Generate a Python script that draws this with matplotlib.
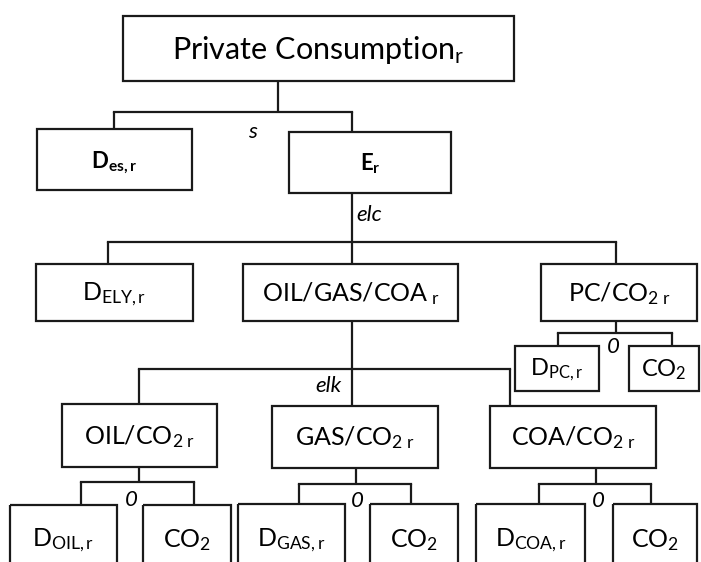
import matplotlib
matplotlib.use('Agg')
import matplotlib.pyplot as plt
from matplotlib.patches import Rectangle

plt.rcParams['font.family'] = ['Lato', 'DejaVu Sans']
plt.rcParams['mathtext.fontset'] = 'custom'
plt.rcParams['mathtext.rm'] = 'Lato'
plt.rcParams['mathtext.it'] = 'Lato:italic'
plt.rcParams['mathtext.bf'] = 'Lato:bold'

# node labels (mathtext for subscripts)
node_labels = {
    'top': r'$\mathrm{Private\ Consumption}_{\mathrm{r}}$',
    'des': r'$\mathbf{D}_{\mathbf{es,r}}$',
    'E': r'$\mathbf{E}_{\mathbf{r}}$',
    'ely': r'$\mathrm{D}_{\mathrm{ELY,r}}$',
    'ogc': r'$\mathrm{OIL/GAS/COA}_{\mathrm{\ r}}$',
    'pc': r'$\mathrm{PC/CO}_{\mathrm{2\ r}}$',
    'dpc': r'$\mathrm{D}_{\mathrm{PC,r}}$',
    'pcco2': r'$\mathrm{CO}_{\mathrm{2}}$',
    'oil': r'$\mathrm{OIL/CO}_{\mathrm{2\ r}}$',
    'gas': r'$\mathrm{GAS/CO}_{\mathrm{2\ r}}$',
    'coa': r'$\mathrm{COA/CO}_{\mathrm{2\ r}}$',
    'doil': r'$\mathrm{D}_{\mathrm{OIL,r}}$',
    'oilco2': r'$\mathrm{CO}_{\mathrm{2}}$',
    'dgas': r'$\mathrm{D}_{\mathrm{GAS,r}}$',
    'gasco2': r'$\mathrm{CO}_{\mathrm{2}}$',
    'dcoa': r'$\mathrm{D}_{\mathrm{COA,r}}$',
    'coaco2': r'$\mathrm{CO}_{\mathrm{2}}$',
}

# tree structure: parent -> children, with elasticity label
tree = [
    ('top', ['des', 'E'], 's'),
    ('E', ['ely', 'ogc', 'pc'], 'elc'),
    ('ogc', ['oil', 'gas', 'coa'], 'elk'),
    ('pc', ['dpc', 'pcco2'], '0'),
    ('oil', ['doil', 'oilco2'], '0'),
    ('gas', ['dgas', 'gasco2'], '0'),
    ('coa', ['dcoa', 'coaco2'], '0'),
]

# layout in pixel coords: x0, x1, y0, y1, text y, font size
boxes = {
    'top': (123, 514, 16, 81, 50, 22),
    'des': (37, 192, 129, 190, 162, 16),
    'E': (289, 451, 132, 193, 164, 16),
    'ely': (36, 193, 264, 321, 294, 18),
    'ogc': (243, 458, 264, 321, 294, 18),
    'pc': (541, 697, 264, 321, 294, 18),
    'dpc': (515, 599, 346, 391, 370, 17),
    'pcco2': (629, 699, 346, 391, 370, 17),
    'oil': (62, 217, 404, 467, 437, 18),
    'gas': (272, 438, 406, 468, 438, 18),
    'coa': (490, 656, 406, 468, 438, 18),
    'doil': (10, 117, 505, 600, 540, 18),
    'oilco2': (143, 231, 505, 600, 540, 18),
    'dgas': (238, 345, 504, 600, 540, 18),
    'gasco2': (370, 458, 504, 600, 540, 18),
    'dcoa': (476, 585, 504, 600, 540, 18),
    'coaco2': (613, 697, 504, 600, 540, 18),
}

# connector layout: stem x, bus y, drop xs, label pos, label ha
connectors = {
    'top': (278, 112, [114, 352], (252, 132), 'center'),
    'E': (352, 242, [108, 352, 616], (356, 215), 'left'),
    'ogc': (352, 369, [139, 352, 510], (341, 386), 'right'),
    'pc': (616, 333, [558, 672], (613, 347), 'center'),
    'oil': (139, 482, [81, 194], (131, 500), 'center'),
    'gas': (356, 484, [299, 411], (357, 501), 'center'),
    'coa': (596, 484, [539, 651], (598, 501), 'center'),
}

W, H = 701, 562
fig = plt.figure(figsize=(W / 100, H / 100), dpi=100)
ax = fig.add_axes([0, 0, 1, 1])
ax.set_xlim(0, W)
ax.set_ylim(H, 0)
ax.axis('off')

lc = '#1a1a1a'
lw = 1.6

for key, (x0, x1, y0, y1, ty, fs) in boxes.items():
    ax.add_patch(Rectangle((x0, y0), x1 - x0, y1 - y0, fill=False,
                           ec=lc, lw=lw, zorder=2))
    ax.text((x0 + x1) / 2, ty, node_labels[key], ha='center', va='center',
            fontsize=fs, color='black', zorder=3)

for parent, children, elast in tree:
    sx, by, drops, (lx, ly), ha = connectors[parent]
    py1 = boxes[parent][3]
    ax.plot([sx, sx], [py1, by], color=lc, lw=lw, solid_capstyle='butt')
    ax.plot([min(drops), max(drops)], [by, by], color=lc, lw=lw,
            solid_capstyle='projecting')
    for dx, child in zip(drops, children):
        cy0 = boxes[child][2]
        ax.plot([dx, dx], [by, cy0], color=lc, lw=lw, solid_capstyle='butt')
    fs = 16 if elast == '0' else 16
    ax.text(lx, ly, elast, ha=ha, va='center', fontsize=fs,
            style='italic', color='black')

fig.savefig('out.png', dpi=100)
